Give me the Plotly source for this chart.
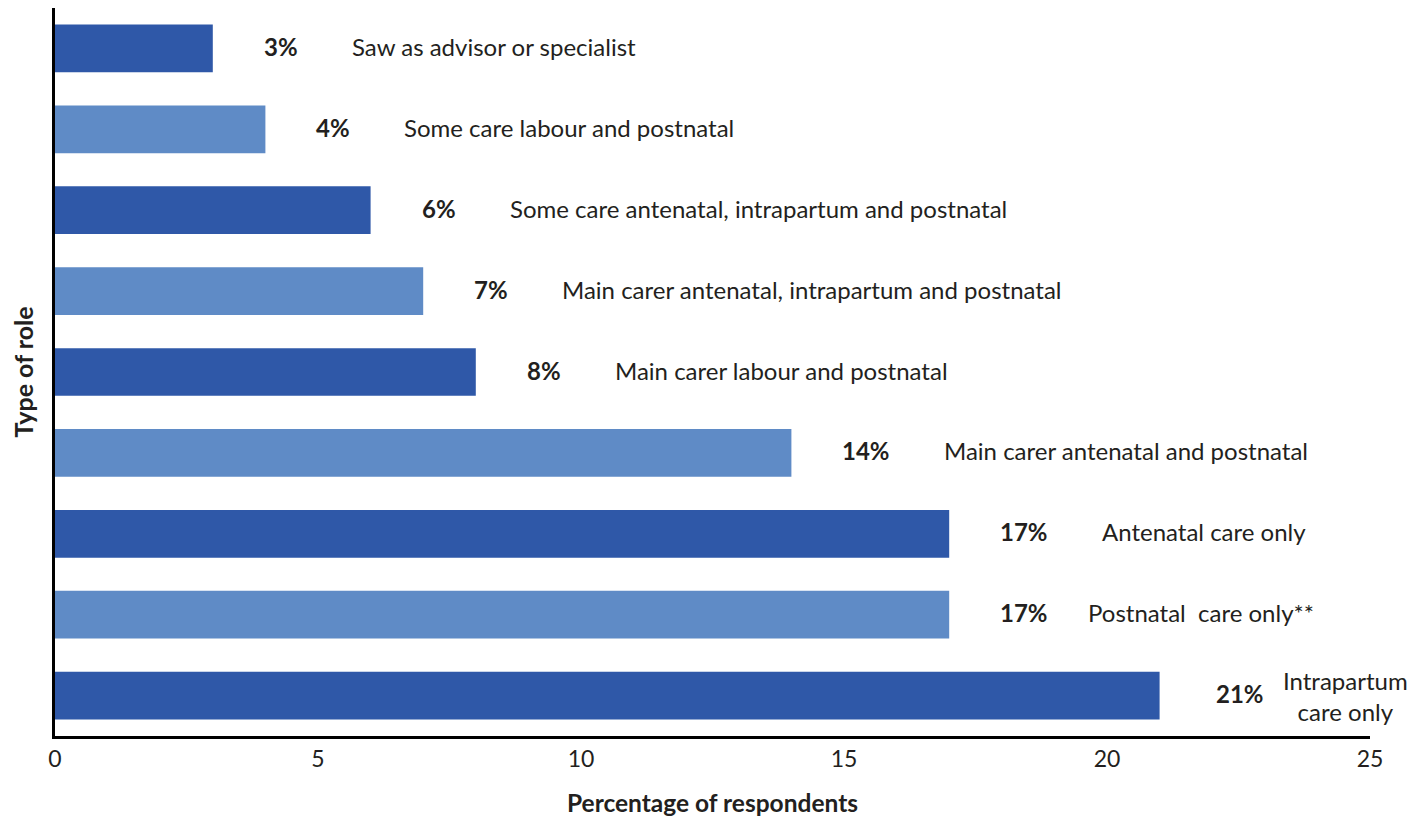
import plotly.graph_objects as go

# Data (top to bottom as shown)
roles = [
    "Saw as advisor or specialist",
    "Some care labour and postnatal",
    "Some care antenatal, intrapartum and postnatal",
    "Main carer antenatal, intrapartum and postnatal",
    "Main carer labour and postnatal",
    "Main carer antenatal and postnatal",
    "Antenatal care only",
    "Postnatal  care only**",
    "Intrapartum<br>care only",
]
percent = [3, 4, 6, 7, 8, 14, 17, 17, 21]
x_ticks = [0, 5, 10, 15, 20, 25]

DARK = "#2F58A8"
LIGHT = "#5F8BC6"
FONT = "Lato"
TXT = "#231F20"

colors = [DARK if i % 2 == 0 else LIGHT for i in range(len(roles))]
ids = [f"r{i}" for i in range(len(roles))]

fig = go.Figure(
    go.Bar(
        x=percent,
        y=ids,
        orientation="h",
        marker=dict(color=colors, line=dict(width=0)),
        hoverinfo="skip",
    )
)

annotations = []
for i, (v, lab) in enumerate(zip(percent, roles)):
    pct = f"{v}%"
    multiline = "<br>" in lab
    pct_w = 36 if v < 10 else 50
    pct_shift = 49 + (5 if multiline else 0)
    annotations.append(dict(
        x=v, y=ids[i], xref="x", yref="y", text=f"<b>{pct}</b>",
        showarrow=False, xanchor="left", yanchor="middle",
        xshift=pct_shift, yshift=2,
        font=dict(family=FONT, size=24, color=TXT),
    ))
    annotations.append(dict(
        x=v, y=ids[i], xref="x", yref="y", text=lab,
        showarrow=False, xanchor="left", yanchor="middle",
        xshift=pct_shift + pct_w + (17 if multiline else (38 if "**" in lab else 52)),
        yshift=2 if not multiline else 0,
        align="center",
        font=dict(family=FONT, size=24, color=TXT),
    ))

# page body adds an 8px offset, so the figure is 8px smaller and margins shifted
fig.update_layout(
    width=1420, height=811,
    margin=dict(l=47, r=58, t=0, b=83),
    paper_bgcolor="white", plot_bgcolor="white",
    bargap=0.41,
    showlegend=False,
    font=dict(family=FONT, size=22, color=TXT),
    annotations=annotations,
    xaxis=dict(
        range=[0, 25], tickvals=x_ticks, ticktext=[str(t) for t in x_ticks],
        showgrid=False, zeroline=False, automargin=False,
        showline=True, linecolor="black", linewidth=3,
        ticks="", tickfont=dict(family=FONT, size=23, color=TXT),
        title=dict(text="<b>Percentage of respondents</b>", standoff=25,
                   font=dict(family=FONT, size=24.5, color=TXT)),
    ),
    yaxis=dict(
        categoryorder="array", categoryarray=ids, autorange="reversed",
        showticklabels=False, ticks="", showgrid=False, zeroline=False,
        automargin=False,
        showline=True, linecolor="black", linewidth=3,
        title=dict(text="<b>Type of role</b>", standoff=21,
                   font=dict(family=FONT, size=25, color=TXT)),
    ),
)

fig.write_html("out.html")
